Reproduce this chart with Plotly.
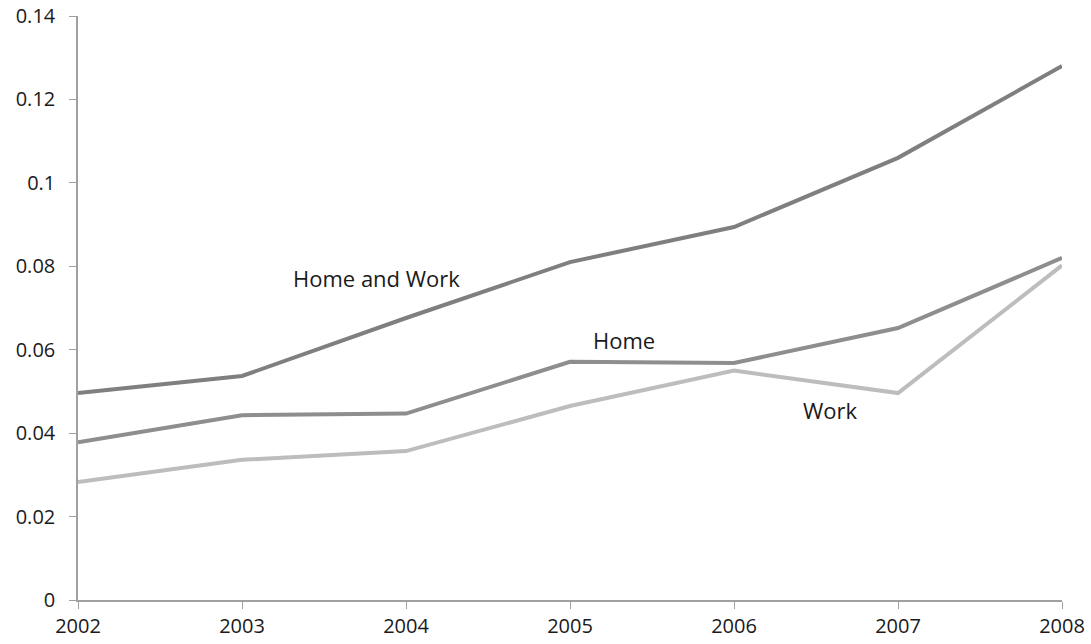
import plotly.graph_objects as go

years = [2002, 2003, 2004, 2005, 2006, 2007, 2008]
home_and_work = [0.0496, 0.0537, 0.0676, 0.0810, 0.0894, 0.1060, 0.1280]
home = [0.0378, 0.0443, 0.0447, 0.0571, 0.0568, 0.0652, 0.0820]
work = [0.0283, 0.0336, 0.0357, 0.0465, 0.0550, 0.0496, 0.0802]

fig = go.Figure()
fig.add_trace(go.Scatter(x=years, y=work, mode="lines", line=dict(color="#bdbdc0", width=4), name="Work"))
fig.add_trace(go.Scatter(x=years, y=home, mode="lines", line=dict(color="#8e8e90", width=4), name="Home"))
fig.add_trace(go.Scatter(x=years, y=home_and_work, mode="lines", line=dict(color="#7f7f81", width=4), name="Home and Work"))

tick_font = dict(family="Open Sans, Liberation Sans, sans-serif", size=20, color="#1a1a1a")
ann_font = dict(family="Open Sans, Liberation Sans, sans-serif", size=22, color="#1a1a1a")
fig.add_annotation(x=2003.82, y=0.0772, text="Home and Work", showarrow=False, font=ann_font)
fig.add_annotation(x=2005.33, y=0.0623, text="Home", showarrow=False, font=ann_font)
fig.add_annotation(x=2006.59, y=0.0455, text="Work", showarrow=False, font=ann_font)

fig.update_layout(
    width=1091, height=644,
    margin=dict(l=78, r=29, t=16, b=44, autoexpand=False),
    paper_bgcolor="white", plot_bgcolor="white",
    showlegend=False,
    font=tick_font,
    xaxis=dict(range=[2002, 2008], tickvals=years, ticks="outside", ticklen=7, tickcolor="#a0a0a0",
               showline=True, linecolor="#a0a0a0", linewidth=1.5, showgrid=False, zeroline=False,
               tickfont=tick_font, ticklabeloverflow="allow", automargin=False),
    yaxis=dict(range=[0, 0.14], tickvals=[0, 0.02, 0.04, 0.06, 0.08, 0.1, 0.12, 0.14],
               ticktext=["0", "0.02", "0.04", "0.06", "0.08", "0.1", "0.12", "0.14"],
               ticks="outside", ticklen=7, tickcolor="#a0a0a0",
               showline=True, linecolor="#a0a0a0", linewidth=1.5, showgrid=False, zeroline=False,
               tickfont=tick_font, ticklabeloverflow="allow", ticklabelstandoff=10, automargin=False),
)
fig.write_html("out.html", config={"displayModeBar": False},
               post_script="document.body.style.margin='0';document.body.style.padding='0';")
